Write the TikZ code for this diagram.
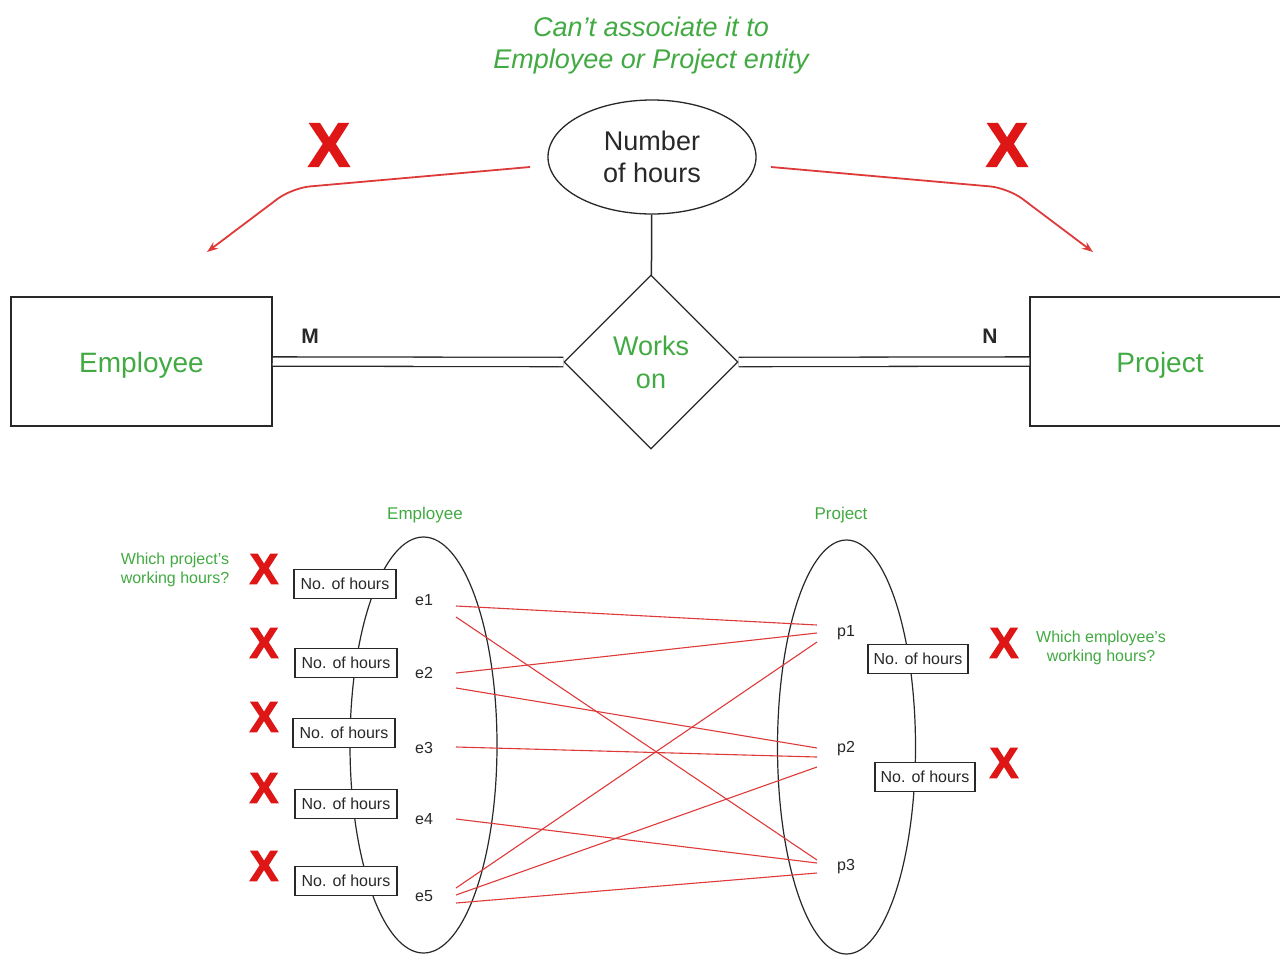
\documentclass[tikz,border=0pt]{standalone}
\usepackage{fontspec}
\setmainfont{Liberation Sans}
\newfontfamily\crossfont{Liberation Sans}[BoldFeatures={FakeBold=2.5}]
\usetikzlibrary{shapes.geometric,arrows.meta}
\definecolor{leaf}{RGB}{66,170,66}
\definecolor{link}{RGB}{222,58,58}
\definecolor{crossred}{RGB}{222,22,22}
\definecolor{ink}{RGB}{40,40,40}
\begin{document}
\begin{tikzpicture}[x=1pt,y=-1pt,
  entity/.style={draw=ink, line width=1.5pt, inner sep=0pt, minimum height=129pt,
    text height=21pt, text depth=0pt,
    text=leaf, font=\fontsize{28}{32}\selectfont},
  relation/.style={diamond, draw=ink, line width=1.3pt, minimum width=174pt,
    minimum height=174pt, inner sep=0pt, align=center, text=leaf,
    font=\fontsize{27}{33}\selectfont},
  attr/.style={ellipse, draw=ink, line width=1.3pt, minimum width=208pt,
    minimum height=114pt, inner sep=0pt, align=center, text=ink,
    font=\fontsize{27}{32}\selectfont},
  total/.style={draw=ink, line width=1.3pt, double=white, double distance=8pt},
  card/.style={text=ink, font=\bfseries\fontsize{21}{24}\selectfont},
  xmark/.style={text=crossred, inner sep=0pt, font=\crossfont\bfseries\fontsize{62}{62}\selectfont},
  smallx/.style={xmark, font=\crossfont\bfseries\fontsize{43}{43}\selectfont},
  remark/.style={text=leaf, align=center},
  warn/.style={draw=link, line width=1.8pt, rounded corners=18pt,
    -{Stealth[length=11pt,width=8pt]}},
  setring/.style={ellipse, draw=ink, line width=1.2pt, inner sep=0pt},
  hoursbox/.style={draw=ink, line width=1.2pt, fill=white, minimum width=102pt,
    minimum height=29pt, inner sep=0pt, text=ink, font=\fontsize{16}{19}\selectfont},
  member/.style={text=ink, font=\fontsize{16}{19}\selectfont},
  rel/.style={draw=link, line width=1.1pt}]
\useasboundingbox (0,0) rectangle (1280,954);
\fill[white] (0,0) rectangle (1280,954);

% ---------- ER diagram ----------
\node[remark, font=\itshape\fontsize{27}{32}\selectfont] (title) at (651,46)
  {Can't associate it to\\Employee or Project entity};

\node[attr] (hours) at (652,157) {Number\\of hours};
\node[relation] (works) at (651,362) {Works\\on};
\node[entity, minimum width=261pt] (emp) at (141.5,361.5) {Employee};
\node[entity, minimum width=260pt] (proj) at (1160,361.5) {Project};

\draw[draw=ink, line width=1.5pt] (hours) -- (works);
\draw[total] (emp.east) -- (works.west);
\draw[total] (works.east) -- (proj.west);
\node[card] (m) at (310,336) {M};
\node[card] (n) at (990,336) {N};

\node[xmark] (xl) at (329,145) {X};
\node[xmark] (xr) at (1007,145) {X};

\coordinate (lstart) at (530,167);
\coordinate (lbend) at (292,188);
\coordinate (ltip) at (207,252);
\coordinate (rstart) at (771,167);
\coordinate (rbend) at (1008,188);
\coordinate (rtip) at (1093,252);
\draw[warn] (lstart) -- (lbend) -- (ltip);
\draw[warn] (rstart) -- (rbend) -- (rtip);

% ---------- instance diagram ----------
\node[remark, font=\fontsize{17}{20}\selectfont] (empset) at (425,515) {Employee};
\node[remark, font=\fontsize{17}{20}\selectfont] (projset) at (841,515) {Project};

\node[setring, minimum width=147pt, minimum height=416pt] (lring) at (423.5,745) {};
\node[setring, minimum width=138pt, minimum height=414pt] (rring) at (846.5,747) {};

\node[member] (e1) at (424,600) {e1};
\node[member] (e2) at (424,673) {e2};
\node[member] (e3) at (424,748) {e3};
\node[member] (e4) at (424,819) {e4};
\node[member] (e5) at (424,896) {e5};
\node[member] (p1) at (846,633) {p1};
\node[member] (p2) at (846,749) {p2};
\node[member] (p3) at (846,867) {p3};

% end points of the relationship lines
\coordinate (e1a) at (456,606);
\coordinate (e1b) at (456,617);
\coordinate (e2a) at (456,673);
\coordinate (e2b) at (456,688);
\coordinate (e3a) at (456,747);
\coordinate (e4a) at (456,819);
\coordinate (e5a) at (456,888);
\coordinate (e5b) at (456,895);
\coordinate (e5c) at (456,903);
\coordinate (p1a) at (817,625);
\coordinate (p1b) at (817,633);
\coordinate (p1c) at (817,642);
\coordinate (p2a) at (817,748);
\coordinate (p2b) at (817,757);
\coordinate (p2c) at (817,767);
\coordinate (p3a) at (817,860);
\coordinate (p3b) at (817,863);
\coordinate (p3c) at (817,873);

\draw[rel] (e1a) -- (p1a);
\draw[rel] (e1b) -- (p3a);
\draw[rel] (e2a) -- (p1b);
\draw[rel] (e2b) -- (p2a);
\draw[rel] (e3a) -- (p2b);
\draw[rel] (e4a) -- (p3b);
\draw[rel] (e5a) -- (p1c);
\draw[rel] (e5b) -- (p2c);
\draw[rel] (e5c) -- (p3c);

\node[hoursbox] (h1) at (345,584) {No. of hours};
\node[hoursbox] (h2) at (346,663) {No. of hours};
\node[hoursbox] (h3) at (344,733) {No. of hours};
\node[hoursbox] (h4) at (346,804) {No. of hours};
\node[hoursbox] (h5) at (346,881) {No. of hours};
\node[hoursbox, minimum width=100pt] (h6) at (918,659) {No. of hours};
\node[hoursbox, minimum width=100pt] (h7) at (925,777) {No. of hours};

\node[smallx] (x1) at (264,569) {X};
\node[smallx] (x2) at (264,643) {X};
\node[smallx] (x3) at (264,717) {X};
\node[smallx] (x4) at (264,788) {X};
\node[smallx] (x5) at (264,866) {X};
\node[smallx] (x6) at (1004,643) {X};
\node[smallx] (x7) at (1004,763) {X};

\node[remark, font=\fontsize{16}{19}\selectfont] (qleft) at (175,570)
  {Which project's\\working hours?};
\node[remark, font=\fontsize{16}{19}\selectfont] (qright) at (1101,648)
  {Which employee's\\working hours?};
\end{tikzpicture}
\end{document}
